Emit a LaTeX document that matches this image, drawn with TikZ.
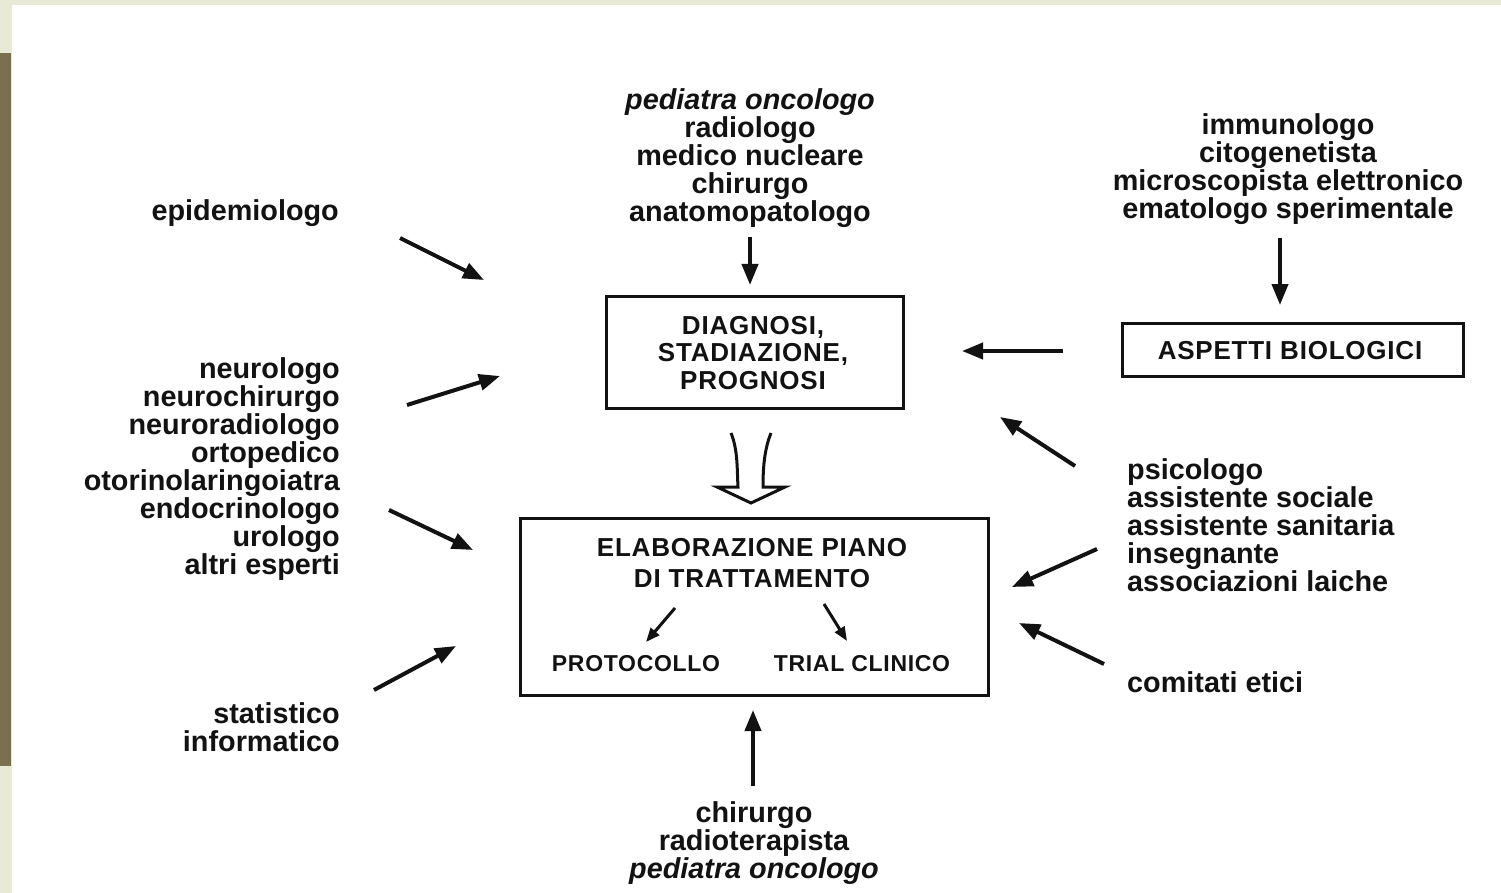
\documentclass[tikz,border=0pt]{standalone}
\usepackage{fontspec}
\setmainfont{Liberation Sans}
\newfontfamily\capsfont[LetterSpace=3]{Liberation Sans}
\usetikzlibrary{arrows.meta, positioning}

\definecolor{pagebg}{RGB}{233,234,214}
\definecolor{sidebar}{RGB}{122,112,80}
\definecolor{ink}{RGB}{18,18,18}

\begin{document}
\begin{tikzpicture}[
    x=1pt, y=-1pt,
    stage/.style = {rectangle, draw=ink, line width=3pt, minimum width=297pt, minimum height=112pt, inner sep=0pt},
    caption/.style = {align=center, text=ink, inner sep=0pt, font=\capsfont\fontsize{26}{27.5}\selectfont\bfseries},
    people/.style = {text=ink, inner sep=0pt, font=\fontsize{28.8}{28}\selectfont\bfseries},
    outcome/.style = {text=ink, inner sep=0pt, font=\capsfont\fontsize{23}{24}\selectfont\bfseries},
    feed/.style = {-{Triangle[length=21pt, width=16pt]}, line width=4pt, draw=ink},
    branch/.style = {-{Triangle[length=14pt, width=11pt]}, line width=3pt, draw=ink},
    >=Stealth]

    % page
    \fill[pagebg] (0,0) rectangle (1501,893);
    \fill[white] (12,5) rectangle (1501,893);
    \fill[sidebar] (0,53) rectangle (11,766);
    \useasboundingbox (0,0) rectangle (1501,893);

    % boxes
    \node[stage] (diag) at (755,352.5) {};
    \node[caption] (diagtxt) at (753,353) {DIAGNOSI,\\STADIAZIONE,\\PROGNOSI};
    \node[stage, minimum width=341pt, minimum height=53pt] (bio) at (1293,350) {};
    \node[caption] (biotxt) at (1290,351) {ASPETTI BIOLOGICI};
    \node[stage, minimum width=468pt, minimum height=177pt] (plan) at (754.5,607) {};
    \node[caption, font=\capsfont\fontsize{26}{31}\selectfont\bfseries] (plantxt) at (752,563) {ELABORAZIONE PIANO\\DI TRATTAMENTO};
    \node[outcome] (proto) at (636,664) {PROTOCOLLO};
    \node[outcome] (trial) at (862,664) {TRIAL CLINICO};

    % experts
    \node[people, align=center] (onco) at (750,158) {\itshape pediatra oncologo\\radiologo\\medico nucleare\\chirurgo\\anatomopatologo};
    \node[people, align=center] (lab) at (1288,169) {immunologo\\citogenetista\\microscopista elettronico\\ematologo sperimentale};
    \node[people, anchor=east] (epi) at (339,213) {epidemiologo};
    \node[people, align=right, anchor=east] (neuro) at (340,469.5) {neurologo\\neurochirurgo\\neuroradiologo\\ortopedico\\otorinolaringoiatra\\endocrinologo\\urologo\\altri esperti};
    \node[people, align=right, anchor=east] (stat) at (340,727) {statistico\\informatico};
    \node[people, align=left, anchor=west] (psy) at (1127,525.5) {psicologo\\assistente sociale\\assistente sanitaria\\insegnante\\associazioni laiche};
    \node[people, anchor=west] (etici) at (1127,682) {comitati etici};
    \node[people, align=center] (surg) at (754,843) {chirurgo\\radioterapista\\\itshape pediatra oncologo};

    % arrow ends
    \coordinate (onco-a) at (750,237);   \coordinate (onco-b) at (750,285);
    \coordinate (lab-a) at (1280,238);   \coordinate (lab-b) at (1280,305);
    \coordinate (bio-a) at (1063,351);   \coordinate (bio-b) at (962,351);
    \coordinate (epi-a) at (400,238);    \coordinate (epi-b) at (484,280);
    \coordinate (neuro-a) at (407,405);  \coordinate (neuro-b) at (500,376);
    \coordinate (neuro-c) at (389,510);  \coordinate (neuro-d) at (473,550);
    \coordinate (stat-a) at (374,690);   \coordinate (stat-b) at (456,646);
    \coordinate (psy-a) at (1075,466);   \coordinate (psy-b) at (1000,417);
    \coordinate (psy-c) at (1097,549);   \coordinate (psy-d) at (1012,587);
    \coordinate (etici-a) at (1104,664); \coordinate (etici-b) at (1019,623);
    \coordinate (surg-a) at (753,786);   \coordinate (surg-b) at (753,710);
    \coordinate (proto-a) at (675,608);  \coordinate (proto-b) at (646,642);
    \coordinate (trial-a) at (824,604);  \coordinate (trial-b) at (847,641);

    \draw[feed] (onco-a) -- (onco-b);
    \draw[feed] (lab-a) -- (lab-b);
    \draw[feed] (bio-a) -- (bio-b);
    \draw[feed] (epi-a) -- (epi-b);
    \draw[feed] (neuro-a) -- (neuro-b);
    \draw[feed] (neuro-c) -- (neuro-d);
    \draw[feed] (stat-a) -- (stat-b);
    \draw[feed] (psy-a) -- (psy-b);
    \draw[feed] (psy-c) -- (psy-d);
    \draw[feed] (etici-a) -- (etici-b);
    \draw[feed] (surg-a) -- (surg-b);
    \draw[branch] (proto-a) -- (proto-b);
    \draw[branch] (trial-a) -- (trial-b);

    % hollow arrow from diagnosis to plan
    \draw[ink, line width=3pt, line join=miter]
        (731,433) .. controls (738,450) and (737,470) .. (738,487)
        -- (717,487) -- (751,503) -- (785,487) -- (763,487)
        .. controls (763,470) and (764,450) .. (771,433);
\end{tikzpicture}
\end{document}
